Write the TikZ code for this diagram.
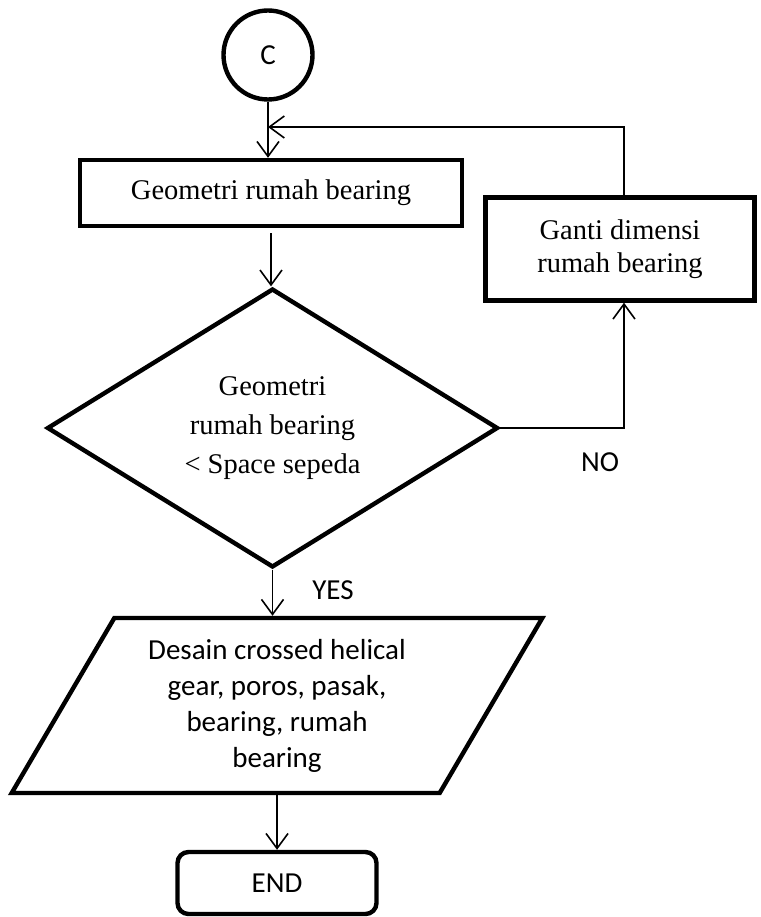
\documentclass[tikz,border=0pt]{standalone}
\usepackage{fontspec}
\setmainfont{Liberation Serif}
\newfontfamily\calib{Carlito}
\usetikzlibrary{shapes.geometric,arrows.meta}
\begin{document}
\begin{tikzpicture}[x=1pt,y=-1pt,
  shp/.style={draw, line width=4.4pt, line join=miter},
  serif/.style={font=\fontsize{28.5}{36}\selectfont, align=center},
  sans/.style={font=\calib\fontsize{29}{36}\selectfont, align=center},
  conn/.style={line width=1.6pt, -{Straight Barb[length=15pt,width=22pt,line width=1.6pt]}}]
\useasboundingbox (0,0) rectangle (760,917);
\node[shp, circle, minimum size=89pt, inner sep=0pt, sans] (c) at (268,55) {C};
\node[shp, rectangle, minimum width=382pt, minimum height=66pt, serif] (b1) at (271,193) {Geometri rumah bearing};
\node[shp, rectangle, minimum width=269pt, minimum height=103pt, serif, font=\fontsize{28.5}{33}\selectfont] (b2) at (620,249) {Ganti dimensi\\rumah bearing};
\node[shp, diamond, minimum width=451pt, minimum height=268pt, inner sep=0pt, serif, font=\fontsize{28.5}{39}\selectfont] (d) at (272.5,428) {Geometri\\rumah bearing\\{<} Space sepeda};
\node[shp, trapezium, trapezium left angle=58.6, trapezium right angle=121.4, trapezium stretches=true, minimum width=534pt, minimum height=175pt, inner sep=0pt, sans] (p) at (277,705.5) {Desain crossed helical\\gear, poros, pasak,\\bearing, rumah\\bearing};
\node[shp, rectangle, rounded corners=11pt, minimum width=199pt, minimum height=62pt, sans] (e) at (277,883) {END};
\node[sans] (no) at (600,462) {NO};
\node[sans] (yes) at (333,590) {YES};
\coordinate (fb) at (624,127);
\draw[conn] (c.south) -- (c.south |- b1.north);
\draw[conn] (b2.north -| fb) -- (fb) -- (fb -| c.south);
\draw[conn, shorten <=5pt] (b1.south) -- (b1.south |- d.north);
\draw[conn] (d.east) -| (b2.south -| fb);
\draw[conn] (d.south) -- (d.south |- p.north);
\draw[conn] (p.south) -- (p.south |- e.north);
\end{tikzpicture}
\end{document}
